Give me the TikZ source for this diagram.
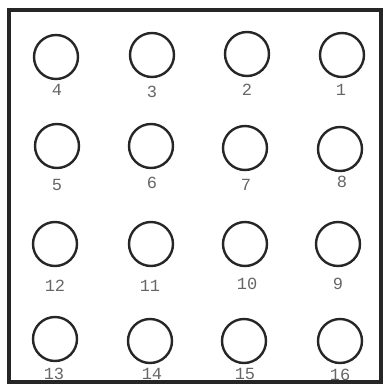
\documentclass[tikz,border=0pt]{standalone}
\usepackage{fontspec}
\setmonofont{Liberation Mono}
\begin{document}
\begin{tikzpicture}[x=1pt,y=-1pt,
  hole/.style={draw=black!85,line width=2.4pt,circle,minimum size=44pt,inner sep=0pt},
  num/.style={text=black!60,font=\ttfamily\fontsize{17}{17}\selectfont,inner sep=0pt}]
\useasboundingbox (0,0) rectangle (385,386);
\draw[line width=3.2pt,black!85] (9,10) rectangle (381,382);
\foreach \n/\x/\y/\lx/\ly in {
 4/56/57/57/90, 3/152/55/152/92, 2/247/54/247/90, 1/342/55/341/90,
 5/57/146/57/185, 6/151/146/152/183, 7/245/148/246/185, 8/340/149/342/182,
 12/55/244/55/286, 11/151/244/150/286, 10/245/244/247/284, 9/338/244/338/284,
 13/55/339/54/374, 14/150/341/152/374, 15/244/341/245/374, 16/340/341/340/375}{
  \node[hole] (c\n) at (\x,\y) {};
  \node[num] (t\n) at (\lx,\ly) {\n};
}
\end{tikzpicture}
\end{document}
